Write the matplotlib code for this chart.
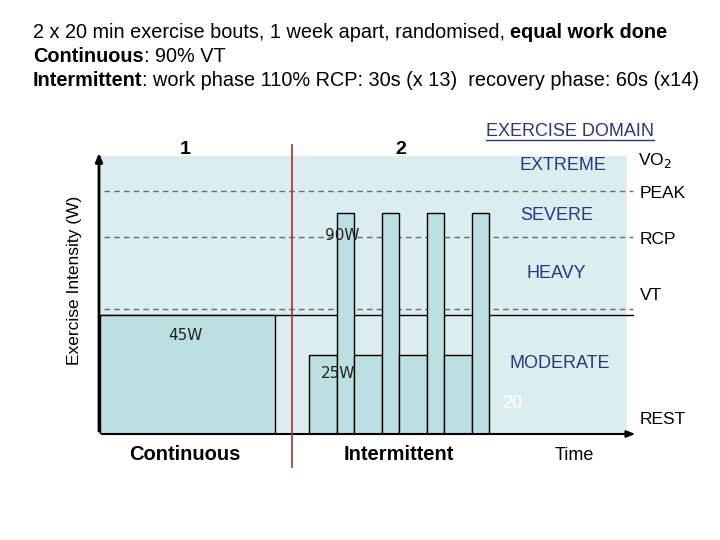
import matplotlib
matplotlib.use("Agg")
import matplotlib.pyplot as plt
from matplotlib.patches import Rectangle

plt.rcParams['font.family'] = ['Liberation Sans', 'DejaVu Sans']

# ---- data (schematic units: x = minutes, y = relative intensity) ----
continuous_start = 0.1
continuous_duration = 20.0
continuous_level = 119
continuous_label = "45W"

interm_start = 24.0
recovery_duration = 3.2
work_duration = 1.95
n_cycles_shown = 4
recovery_level = 79
work_level = 221
recovery_label = "25W"
work_label = "90W"

threshold_names = ["PEAK", "RCP", "VT"]
threshold_levels = [243, 197, 125]
domain_names = ["EXTREME", "SEVERE", "HEAVY", "MODERATE"]
domain_levels = [269, 218, 161, 71]
domain_top = 278
domain_right = 60.3
title_lines = [
    [("2 x 20 min exercise bouts, 1 week apart, randomised, ", "normal"), ("equal work done", "bold")],
    [("Continuous", "bold"), (": 90% VT", "normal")],
    [("Intermittent", "bold"), (": work phase 110% RCP: 30s (x 13)  recovery phase: 60s (x14)", "normal")],
]

bg_col = "#dcedf0"
bar_col = "#bcdfe2"
dash_col = "#5f6f74"
navy = "#2e3480"

fig = plt.figure(figsize=(7.2, 5.4), dpi=100)
W, H = 720, 540
ax = fig.add_axes([99 / W, 1 - 434 / H, (637 - 99) / W, (434 - 152) / H])
ax.set_xlim(0, (637 - 99) / 8.75)
ax.set_ylim(0, 282)
ax.axis("off")

def fpx(x, y):
    return (x / W, 1 - y / H)

# domain background
ax.add_patch(Rectangle((continuous_start, 0), domain_right - continuous_start, domain_top,
                       facecolor=bg_col, edgecolor="none", zorder=0))

# threshold dashed lines
for lv in threshold_levels:
    ax.plot([0.57, 61.0], [lv, lv], ls=(0, (4, 3)), color=dash_col, lw=1.0, zorder=1)
# solid line at continuous level
ax.plot([0, 61.0], [continuous_level, continuous_level], color="black", lw=1.0, zorder=1)

# continuous bout
ax.add_patch(Rectangle((continuous_start, 0), continuous_duration, continuous_level,
                       facecolor=bar_col, edgecolor="black", lw=1.0, zorder=2))

# intermittent bout
t = interm_start
for i in range(n_cycles_shown):
    ax.add_patch(Rectangle((t, 0), recovery_duration, recovery_level,
                           facecolor=bar_col, edgecolor="black", lw=1.0, zorder=2))
    t += recovery_duration
    ax.add_patch(Rectangle((t, 0), work_duration, work_level,
                           facecolor=bar_col, edgecolor="black", lw=1.0, zorder=2))
    t += work_duration

# axes arrows
ax.annotate("", xy=(0, 284), xytext=(0, 0),
            arrowprops=dict(arrowstyle="-|>,head_length=0.5,head_width=0.2", color="black", lw=2),
            annotation_clip=False)
ax.annotate("", xy=(61.6, 0), xytext=(0, 0),
            arrowprops=dict(arrowstyle="-|>,head_length=0.5,head_width=0.2", color="black", lw=1.5),
            annotation_clip=False)

# red divider
ax.plot([22.06, 22.06], [-33, 289], color="#a83232", lw=1.2, clip_on=False, zorder=3)

# watt labels
ax.text(9.85, 98, continuous_label, ha="center", va="center", fontsize=11, color="#222222",
        family=["DejaVu Sans"], zorder=4)
ax.text(27.3, 61, recovery_label, ha="center", va="center", fontsize=11, color="#222222",
        family=["DejaVu Sans"], zorder=4)
ax.text(27.8, 199, work_label, ha="center", va="center", fontsize=11, color="#222222",
        family=["DejaVu Sans"], zorder=4)

# domain names
dom_x = [53.0, 52.3, 52.3, 52.7]
for name, lv, x in zip(domain_names, domain_levels, dom_x):
    ax.text(x, lv, name, ha="center", va="center", fontsize=13, color=navy, zorder=4)
ax.text(47.2, 31, "20", ha="center", va="center", fontsize=13, color="white", zorder=4)

# right labels
fig.text(*fpx(638, 160), r"VO$_2$", ha="left", va="center", fontsize=12.5)
fig.text(*fpx(640, 193), "PEAK", ha="left", va="center", fontsize=12.5)
fig.text(*fpx(640, 239), "RCP", ha="left", va="center", fontsize=12.5)
fig.text(*fpx(640, 295), "VT", ha="left", va="center", fontsize=12.5)
fig.text(*fpx(640, 420), "REST", ha="left", va="center", fontsize=12.5)

# header for domains
fig.text(*fpx(570, 131), "EXERCISE DOMAIN", ha="center", va="center", fontsize=13, color=navy)
fig.add_artist(plt.Line2D([486 / W, 654 / W], [1 - 140 / H, 1 - 140 / H], color=navy, lw=1.0))

# bout numbers
fig.text(*fpx(185, 150), "1", ha="center", va="center", fontsize=14, fontweight="bold")
fig.text(*fpx(401, 150), "2", ha="center", va="center", fontsize=14, fontweight="bold")

# bottom labels
fig.text(*fpx(185, 455), "Continuous", ha="center", va="center", fontsize=14.5, fontweight="bold")
fig.text(*fpx(399, 455), "Intermittent", ha="center", va="center", fontsize=14.5, fontweight="bold")
fig.text(*fpx(574, 455), "Time", ha="center", va="center", fontsize=13)

# y label
fig.text(*fpx(74, 280), "Exercise Intensity (W)", ha="center", va="center", rotation=90, fontsize=12.5)

# title lines with mixed weights
fig.canvas.draw()
renderer = fig.canvas.get_renderer()
ys = [33, 57, 81]
for line, y in zip(title_lines, ys):
    x = 33
    for txt, wt in line:
        tt = fig.text(*fpx(x, y), txt, ha="left", va="center", fontsize=14.3, fontweight=wt)
        bb = tt.get_window_extent(renderer)
        x += bb.width

fig.savefig("out.png", dpi=100)
